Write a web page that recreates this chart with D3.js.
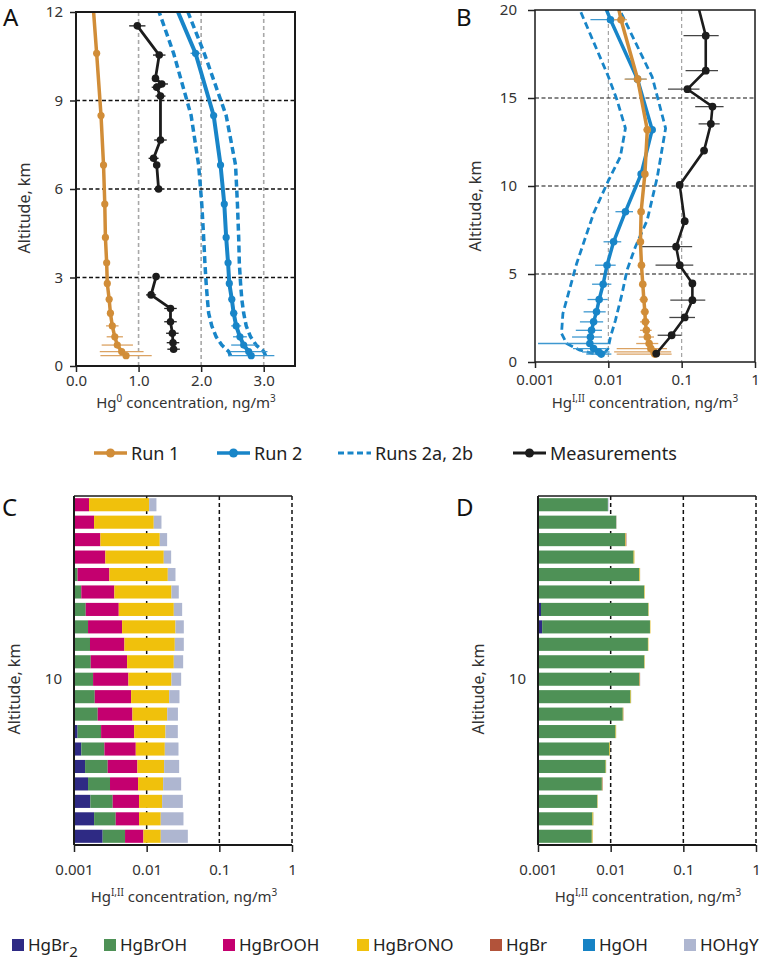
<!DOCTYPE html>
<html>
<head>
<meta charset="utf-8">
<script src="https://cdn.jsdelivr.net/npm/d3@7"></script>
<style>
  body { margin: 0; background: #fff; }
  svg { display: block; font-family: "Noto Sans", sans-serif; }
</style>
</head>
<body>
<div id="viz"></div>
<script>
/***************** Panel A data: Hg0, ng/m3 *********************/
var altA = [0.35, 0.49, 0.71, 0.99, 1.36, 1.79, 2.26, 2.80, 3.50, 4.36, 5.49, 6.81, 8.49, 10.60, 12.9];
var run1A = [0.80, 0.73, 0.66, 0.62, 0.58, 0.55, 0.53, 0.50, 0.49, 0.47, 0.46, 0.44, 0.40, 0.33, 0.25];
var run1AErr = [0.41, 0.35, 0.25, 0.13, 0.10, 0.05, 0.04, 0.03, 0.03, 0.03, 0.03, 0.02, 0.02, 0.02, 0.02];
var run2A = [2.80, 2.76, 2.68, 2.62, 2.56, 2.52, 2.49, 2.45, 2.43, 2.40, 2.37, 2.31, 2.20, 1.91, 1.45];
var run2AErr = [0.37, 0.30, 0.20, 0.11, 0.08, 0.06, 0.05, 0.04, 0.04, 0.04, 0.04, 0.04, 0.05, 0.08, 0.06];
var run2aA = [2.47, 2.44, 2.33, 2.24, 2.17, 2.12, 2.10, 2.08, 2.06, 2.04, 2.01, 1.96, 1.84, 1.56, 1.18];
var run2bA = [3.03, 3.00, 2.88, 2.79, 2.72, 2.68, 2.65, 2.63, 2.61, 2.60, 2.58, 2.55, 2.40, 2.05, 1.62];
var measAltA = [0.57, 0.79, 1.11, 1.50, 1.95, 2.41, 3.03, 4.5, 6.00, 6.81, 7.04, 7.66, 9.15, 9.45, 9.56, 9.75, 10.54, 11.53];
var measA = [1.56, 1.55, 1.54, 1.51, 1.51, 1.20, 1.28, null, 1.32, 1.29, 1.24, 1.35, 1.35, 1.29, 1.37, 1.27, 1.33, 0.98];
var measAErr = [0.10, 0.10, 0.10, 0.10, 0.10, 0.08, 0.05, null, 0.03, 0.05, 0.08, 0.10, 0.08, 0.08, 0.10, 0.05, 0.10, 0.13];

/***************** Panel B data: HgI,II, ng/m3 *********************/
var altB = [0.45, 0.57, 0.76, 1.05, 1.42, 1.80, 2.28, 2.85, 3.55, 4.42, 5.50, 6.83, 8.54, 10.68, 13.19, 16.07, 19.45, 22.0];
var run1B = [0.043, 0.042, 0.038, 0.036, 0.034, 0.033, 0.032, 0.0315, 0.0305, 0.0295, 0.0283, 0.0274, 0.028, 0.0315, 0.034, 0.0251, 0.0149, 0.011];
var run1BErr = [0.03, 0.03, 0.025, 0.012, 0.008, 0.006, 0.005, 0.004, 0.004, 0.003, 0.003, 0.003, 0.003, 0.003, 0.004, 0.0085, 0.003, 0];
var run2B = [0.008, 0.0074, 0.0063, 0.0056, 0.0057, 0.0059, 0.0063, 0.0069, 0.0075, 0.0085, 0.0096, 0.0118, 0.0171, 0.028, 0.0396, 0.025, 0.0107, 0.006];
var run2BErr = [0.003, 0.003, 0.003, 0.0045, 0.0025, 0.0023, 0.0022, 0.0023, 0.0023, 0.0025, 0.003, 0.0032, 0.0046, 0.002, 0.002, 0.008, 0.005, 0];
var alt2aB = [0.48, 0.67, 1.05, 1.62, 2.75, 5.6, 8.45, 10.3, 11.67, 13.28, 14.9, 16.22, 20, 22];
var run2aB = [0.0063, 0.0041, 0.0027, 0.0023, 0.0024, 0.0037, 0.0063, 0.0100, 0.0146, 0.0171, 0.0131, 0.0100, 0.0041, 0.003];
var alt2bB = [0.48, 0.76, 1.42, 2.37, 3.89, 5.22, 6.55, 8.06, 10.5, 13.28, 16.2, 20, 22];
var run2bB = [0.0087, 0.0099, 0.0107, 0.0125, 0.0154, 0.018, 0.0234, 0.0339, 0.0465, 0.0604, 0.0396, 0.0143, 0.010];
var measAltB = [0.48, 1.52, 2.53, 3.51, 4.46, 5.50, 6.55, 8.00, 10.06, 12.01, 13.53, 14.51, 15.50, 16.55, 18.54, 21.0];
var measB = [0.045, 0.073, 0.110, 0.140, 0.140, 0.094, 0.084, 0.110, 0.094, 0.202, 0.250, 0.263, 0.120, 0.213, 0.213, 0.15];
var measBErr = [0, 0.026, 0.042, 0.07, 0, 0.05, 0.055, 0, 0.01, 0, 0.08, 0.11, 0.055, 0.10, 0.107, 0];

/***************** Panels C, D data: speciation, pg/m3 (x1e-3 ng/m3) *********************/
var barAlt = [1, 2, 3, 4, 5, 6, 7, 8, 9, 10, 11, 12, 13, 14, 15, 16, 17, 18, 19, 20];
var species = ["HgBr2", "HgBrOH", "HgBrOOH", "HgBrONO", "HgBr", "HgOH", "HOHgY"];
var speciesColors = ["#2e2a84", "#4e9156", "#c4006f", "#f0c10c", "#b2533a", "#1682c4", "#aeb6d0"];

var hgbr2C   = [2.48, 1.89, 1.68, 1.56, 1.42, 1.26, 1.12, 0.90, 0.80, 0.70, 0.60, 0.50, 0.40, 0.35, 0.30, 0.25, 0.20, 0.20, 0.20, 0.20];
var hgbrohC  = [2.56, 1.86, 1.73, 1.57, 1.49, 1.36, 1.24, 1.22, 1.13, 1.13, 1.10, 1.16, 1.16, 1.10, 0.96, 0.87, 0.60, 0.50, 0.40, 0.30];
var hgbroohC = [3.98, 4.11, 4.45, 4.49, 4.55, 4.46, 4.36, 4.25, 4.18, 3.78, 3.68, 3.28, 3.03, 2.68, 2.33, 1.95, 1.90, 1.61, 1.29, 1.11];
var hgbronoC = [6.62, 7.77, 8.46, 9.23, 9.93, 10.69, 11.43, 12.75, 14.28, 16.34, 18.25, 19.45, 20.33, 19.50, 18.35, 16.47, 14.50, 12.84, 10.63, 9.19];
var hgbrC    = [0, 0, 0, 0, 0, 0, 0, 0.1, 0, 0, 0, 0, 0, 0, 0, 0, 0, 0, 0, 0];
var hgohC    = [0, 0, 0, 0, 0, 0, 0, 0, 0, 0, 0, 0, 0, 0, 0, 0, 0, 0, 0, 0];
var hohgyC   = [21.21, 16.47, 15.13, 12.98, 10.60, 9.64, 8.69, 7.71, 7.90, 7.88, 8.15, 8.06, 7.53, 7.16, 5.74, 5.38, 4.52, 3.97, 3.46, 2.83];

var hgbr2D   = [0.1, 0.1, 0.1, 0.1, 0.1, 0.1, 0.1, 0.1, 0.1, 0.1, 0.1, 0.1, 1.14, 1.10, 0.1, 0.1, 0.1, 0.1, 0.1, 0.1];
var hgbrohD  = [5.40, 5.52, 6.43, 7.47, 8.44, 9.51, 11.58, 14.59, 18.67, 24.68, 28.94, 32.47, 33.60, 31.92, 28.84, 24.78, 20.60, 15.74, 11.78, 9.06];
var hgbroohD = [0, 0, 0, 0, 0, 0, 0, 0, 0, 0, 0, 0, 0, 0, 0, 0, 0, 0, 0, 0];
var hgbronoD = [0.15, 0.15, 0.1, 0.1, 0.1, 0.2, 0.2, 0.2, 0.3, 0.3, 0.4, 0.5, 0.5, 0.4, 0.5, 0.5, 0.5, 0.3, 0.1, 0];
var hgbrD    = [0, 0, 0, 0.1, 0, 0, 0, 0.1, 0, 0.3, 0, 0, 0, 0, 0, 0, 0, 0.3, 0, 0];
var hgohD    = [0, 0, 0, 0, 0, 0, 0, 0, 0, 0, 0, 0, 0, 0, 0, 0, 0, 0, 0, 0];
var hohgyD   = [0.05, 0.05, 0.05, 0.05, 0.05, 0.05, 0.05, 0.05, 0.1, 0.1, 0.1, 0.1, 0.1, 0.1, 0.1, 0.1, 0.1, 0.1, 0.2, 0.2];

/***************** Styles *********************/
var orange = "#d18d38",
    blue = "#1885c8",
    black = "#1c1c1c",
    text_color = "#333";

var svg = d3.select("#viz")
  .append("svg")
  .attr("width", 762)
  .attr("height", 961);

/* helpers */
var rows = function(alts, vals, errs) {
  return alts.map(function(a, i) {
    return { a: a, v: vals[i], e: errs ? errs[i] : 0 };
  });
};

var styleAxis = function(g, size) {
  g.attr("font-family", "Noto Sans, sans-serif")
   .attr("font-size", size || 15);
  g.select(".domain").remove();
  g.selectAll(".tick line").attr("stroke", "#222").attr("stroke-width", 1.5);
  g.selectAll(".tick text").attr("fill", text_color);
};

var drawSeries = function(g, x, y, data, opt) {
  var lo = x.domain()[0] * 0.5;
  if (opt.err) {
    g.selectAll(null)
      .data(data.filter(function(d) { return d.v != null && d.e > 0; }))
      .enter().append("line")
      .attr("x1", function(d) { return x(Math.max(d.v - d.e, lo)); })
      .attr("x2", function(d) { return x(d.v + d.e); })
      .attr("y1", function(d) { return y(d.a); })
      .attr("y2", function(d) { return y(d.a); })
      .attr("stroke", opt.errColor || opt.color)
      .attr("stroke-width", 1.3);
  }
  var line = d3.line()
    .defined(function(d) { return d.v != null; })
    .x(function(d) { return x(d.v); })
    .y(function(d) { return y(d.a); });
  g.append("path")
    .datum(data)
    .attr("d", line)
    .attr("fill", "none")
    .attr("stroke", opt.color)
    .attr("stroke-width", opt.width)
    .attr("stroke-dasharray", opt.dash || null)
    .attr("stroke-linejoin", "round");
  if (opt.r) {
    g.selectAll(null)
      .data(data.filter(function(d) { return d.v != null; }))
      .enter().append("circle")
      .attr("cx", function(d) { return x(d.v); })
      .attr("cy", function(d) { return y(d.a); })
      .attr("r", opt.r)
      .attr("fill", opt.color);
  }
};

var hgTitle = function(x, y, sup) {
  var t = svg.append("text")
    .attr("x", x).attr("y", y)
    .attr("text-anchor", "middle")
    .attr("font-size", 15)
    .attr("fill", text_color);
  t.append("tspan").text("Hg");
  t.append("tspan").attr("dy", -6).attr("font-size", 10).text(sup);
  t.append("tspan").attr("dy", 6).text(" concentration, ng/m");
  t.append("tspan").attr("dy", -6).attr("font-size", 10).text("3");
};

var altTitle = function(x, y) {
  svg.append("text")
    .attr("transform", "translate(" + x + "," + y + ") rotate(-90)")
    .attr("text-anchor", "middle")
    .attr("font-size", 16)
    .attr("fill", text_color)
    .text("Altitude, km");
};

var panelLetter = function(x, y, s) {
  svg.append("text")
    .attr("x", x).attr("y", y)
    .attr("font-size", 24)
    .attr("fill", "#111")
    .text(s);
};

/***************** Panel A *********************/
var xA = d3.scaleLinear().domain([0, 3.5]).range([76, 295]);
var yA = d3.scaleLinear().domain([0, 12]).range([366, 12]);

svg.append("clipPath").attr("id", "clipA")
  .append("rect").attr("x", 76).attr("y", 12).attr("width", 219).attr("height", 354);

svg.selectAll(".vgridA").data([1, 2, 3]).enter().append("line")
  .attr("x1", function(d) { return xA(d); }).attr("x2", function(d) { return xA(d); })
  .attr("y1", 12).attr("y2", 366)
  .attr("stroke", "#a8a8a8").attr("stroke-width", 1.6).attr("stroke-dasharray", "4,3");
svg.selectAll(".hgridA").data([3, 6, 9]).enter().append("line")
  .attr("x1", 76).attr("x2", 295)
  .attr("y1", function(d) { return yA(d); }).attr("y2", function(d) { return yA(d); })
  .attr("stroke", "#111").attr("stroke-width", 1.6).attr("stroke-dasharray", "4,2.5");

var gA = svg.append("g").attr("clip-path", "url(#clipA)");
drawSeries(gA, xA, yA, rows(altA, run2aA), { color: blue, width: 3.5, dash: "7,4" });
drawSeries(gA, xA, yA, rows(altA, run2bA), { color: blue, width: 3.5, dash: "7,4" });
drawSeries(gA, xA, yA, rows(altA, run1A, run1AErr), { color: orange, width: 3.5, r: 3.6, err: true, errColor: "#dba262" });
drawSeries(gA, xA, yA, rows(altA, run2A, run2AErr), { color: blue, width: 4, r: 3.6, err: true, errColor: "#3d98d0" });
drawSeries(gA, xA, yA, rows(measAltA, measA, measAErr), { color: black, width: 2.8, r: 3.8, err: true });

svg.append("rect").attr("x", 76).attr("y", 12).attr("width", 219).attr("height", 354)
  .attr("fill", "none").attr("stroke", "#1a1a1a").attr("stroke-width", 2);

svg.append("g").attr("transform", "translate(0,366)")
  .call(d3.axisBottom(xA).tickValues([0, 1, 2, 3]).tickFormat(d3.format(".1f"))
        .tickSize(6).tickSizeOuter(0).tickPadding(3))
  .call(styleAxis);
svg.append("g").attr("transform", "translate(76,0)")
  .call(d3.axisLeft(yA).tickValues([0, 3, 6, 9, 12]).tickSize(6).tickSizeOuter(0).tickPadding(7))
  .call(styleAxis);

hgTitle(186, 408, "0");
altTitle(30, 208);
panelLetter(3, 26, "A");

/***************** Panel B *********************/
var xB = d3.scaleLog().domain([0.001, 1]).range([535, 755]);
var yB = d3.scaleLinear().domain([0, 20]).range([362, 10]);

svg.append("clipPath").attr("id", "clipB")
  .append("rect").attr("x", 535).attr("y", 10).attr("width", 220).attr("height", 352);

svg.selectAll(".vgridB").data([0.01, 0.1]).enter().append("line")
  .attr("x1", function(d) { return xB(d); }).attr("x2", function(d) { return xB(d); })
  .attr("y1", 10).attr("y2", 362)
  .attr("stroke", "#9a9a9a").attr("stroke-width", 1.1).attr("stroke-dasharray", "4,3");
svg.selectAll(".hgridB").data([5, 10, 15]).enter().append("line")
  .attr("x1", 535).attr("x2", 755)
  .attr("y1", function(d) { return yB(d); }).attr("y2", function(d) { return yB(d); })
  .attr("stroke", "#111").attr("stroke-width", 1.2).attr("stroke-dasharray", "4,2.5");

var gB = svg.append("g").attr("clip-path", "url(#clipB)");
drawSeries(gB, xB, yB, rows(alt2aB, run2aB), { color: blue, width: 2.8, dash: "7,4" });
drawSeries(gB, xB, yB, rows(alt2bB, run2bB), { color: blue, width: 2.8, dash: "7,4" });
drawSeries(gB, xB, yB, rows(altB, run2B, run2BErr), { color: blue, width: 3.5, r: 3.8, err: true, errColor: "#3d98d0" });
drawSeries(gB, xB, yB, rows(altB, run1B, run1BErr), { color: orange, width: 3.5, r: 3.8, err: true, errColor: "#dba262" });
drawSeries(gB, xB, yB, rows(measAltB, measB, measBErr), { color: black, width: 2.6, r: 3.9, err: true, errColor: "#444" });

svg.append("rect").attr("x", 535).attr("y", 10).attr("width", 220).attr("height", 352)
  .attr("fill", "none").attr("stroke", "#1a1a1a").attr("stroke-width", 1.5);

svg.append("g").attr("transform", "translate(0,362)")
  .call(d3.axisBottom(xB).tickValues([0.001, 0.01, 0.1, 1]).tickFormat(d3.format("~g"))
        .tickSize(6).tickSizeOuter(0).tickPadding(6))
  .call(styleAxis);
svg.append("g").attr("transform", "translate(535,0)")
  .call(d3.axisLeft(yB).tickValues([0, 5, 10, 15, 20]).tickSize(7).tickSizeOuter(0).tickPadding(11))
  .call(styleAxis);

hgTitle(645, 408, "I,II");
altTitle(481, 206);
panelLetter(456, 26, "B");

/***************** Line legend *********************/
var lineLegend = [
  { label: "Run 1", color: orange, x: 94, dash: null, dot: true, w: 3.5 },
  { label: "Run 2", color: blue, x: 217, dash: null, dot: true, w: 3.5 },
  { label: "Runs 2a, 2b", color: blue, x: 338, dash: "6,3.5", dot: false, w: 3 },
  { label: "Measurements", color: black, x: 513, dash: null, dot: true, w: 3 }
];
var lg = svg.selectAll(".lg").data(lineLegend).enter().append("g")
  .attr("transform", function(d) { return "translate(" + d.x + ",453)"; });
lg.append("line").attr("x1", 0).attr("x2", 33).attr("y1", 0).attr("y2", 0)
  .attr("stroke", function(d) { return d.color; })
  .attr("stroke-width", function(d) { return d.w; })
  .attr("stroke-dasharray", function(d) { return d.dash; });
lg.filter(function(d) { return d.dot; }).append("circle")
  .attr("cx", 16.5).attr("cy", 0).attr("r", 4.5)
  .attr("fill", function(d) { return d.color; });
lg.append("text").attr("x", 37).attr("y", 6.5)
  .attr("font-size", 18).attr("fill", "#222")
  .text(function(d) { return d.label; });

/***************** Panels C, D (stacked bars, log x) *********************/
var tableOf = function(cols) {
  return barAlt.map(function(a, i) {
    var row = { alt: a };
    species.forEach(function(s, k) { row[s] = cols[k][i]; });
    return row;
  });
};
var tableC = tableOf([hgbr2C, hgbrohC, hgbroohC, hgbronoC, hgbrC, hgohC, hohgyC]);
var tableD = tableOf([hgbr2D, hgbrohD, hgbroohD, hgbronoD, hgbrD, hgohD, hohgyD]);

var yBar = d3.scaleBand().domain(barAlt.slice().reverse())
  .range([496, 845]).paddingInner(0.25).paddingOuter(0.125);

var drawBars = function(table, x0, letter, letterX) {
  var x = d3.scaleLog().domain([0.001, 1]).range([x0, x0 + 218]).clamp(true);
  var pg = function(v) { return x(Math.max(v / 1000, 0.001)); };

  svg.selectAll(null).data([0.01, 0.1, 1]).enter().append("line")
    .attr("x1", function(d) { return x(d); }).attr("x2", function(d) { return x(d); })
    .attr("y1", 496).attr("y2", 845)
    .attr("stroke", "#111").attr("stroke-width", 1.5).attr("stroke-dasharray", "4,3");

  var stacked = d3.stack().keys(species)(table);
  var layer = svg.append("g").selectAll("g").data(stacked).enter().append("g")
    .attr("fill", function(d, i) { return speciesColors[i]; });
  layer.selectAll("rect").data(function(d) { return d; }).enter().append("rect")
    .attr("x", function(d) { return pg(d[0]); })
    .attr("width", function(d) { return Math.max(0, pg(d[1]) - pg(d[0])); })
    .attr("y", function(d) { return yBar(d.data.alt); })
    .attr("height", yBar.bandwidth());

  svg.append("line").attr("x1", x0).attr("x2", x0 + 218).attr("y1", 496).attr("y2", 496)
    .attr("stroke", "#1a1a1a").attr("stroke-width", 1.5);
  svg.append("line").attr("x1", x0).attr("x2", x0).attr("y1", 496).attr("y2", 845)
    .attr("stroke", "#1a1a1a").attr("stroke-width", 2);
  svg.append("line").attr("x1", x0).attr("x2", x0 + 218).attr("y1", 845).attr("y2", 845)
    .attr("stroke", "#1a1a1a").attr("stroke-width", 2);

  svg.append("g").attr("transform", "translate(0,845)")
    .call(d3.axisBottom(x).tickValues([0.001, 0.01, 0.1, 1]).tickFormat(d3.format("~g"))
          .tickSize(7).tickSizeOuter(0).tickPadding(12))
    .call(styleAxis);
  svg.append("g").attr("transform", "translate(" + x0 + ",0)")
    .call(d3.axisLeft(yBar).tickValues([10]).tickSize(0).tickPadding(12))
    .call(styleAxis);

  hgTitle(x0 + 110, 902, "I,II");
  altTitle(x0 - 54, 689);
  panelLetter(letterX, 516, letter);
};

drawBars(tableC, 74, "C", 2);
drawBars(tableD, 538, "D", 456);

/***************** Species legend *********************/
var legendX = [12, 104, 223, 357, 490, 583, 684];
var sl = svg.selectAll(".sl").data(species).enter().append("g")
  .attr("transform", function(d, i) { return "translate(" + legendX[i] + ",945)"; });
sl.append("rect").attr("x", 0).attr("y", -6).attr("width", 12).attr("height", 12)
  .attr("fill", function(d, i) { return speciesColors[i]; });
var st = sl.append("text").attr("x", 16).attr("y", 6)
  .attr("font-size", 17).attr("fill", "#222");
st.each(function(d) {
  var t = d3.select(this);
  if (d === "HgBr2") {
    t.append("tspan").text("HgBr");
    t.append("tspan").attr("dy", 6).attr("font-size", 15).text("2");
  } else {
    t.text(d);
  }
});
</script>
</body>
</html>
